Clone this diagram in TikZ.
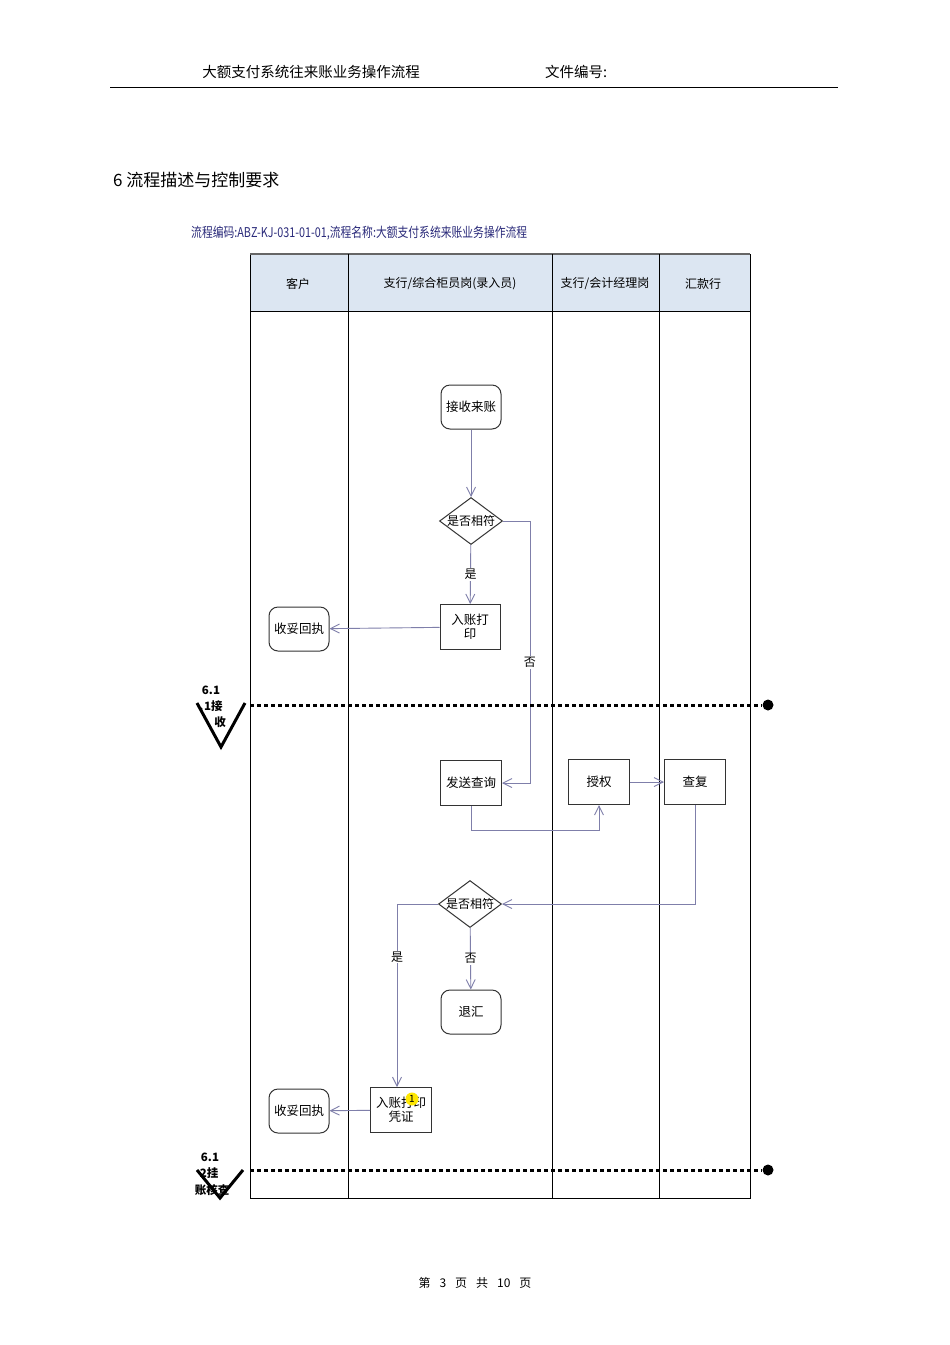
\documentclass[tikz,border=0pt]{standalone}
\usepackage{fontspec}
\usepackage{graphicx}
\setmainfont{Noto Sans CJK SC}
\usetikzlibrary{shapes.geometric,arrows.meta}
\definecolor{conncol}{HTML}{7F7FAA}
\definecolor{hdrfill}{HTML}{DCE6F2}
\definecolor{ttlcol}{HTML}{2A2A7A}
\begin{document}
\begin{tikzpicture}[x=1pt,y=-1pt,
  every node/.style={inner sep=0pt},
  txt/.style={font=\fontsize{12}{14}\selectfont},
  proc/.style={draw=black!80,line width=1pt,minimum width=61pt,minimum height=45pt,align=center,font=\fontsize{12.5}{14}\selectfont},
  term/.style={proc,rounded corners=9pt,minimum width=60pt,minimum height=44pt},
  dec/.style={draw=black!80,line width=1pt,diamond,aspect=1.35,minimum width=62pt,minimum height=47pt,font=\fontsize{12}{14}\selectfont},
  conn/.style={draw=conncol,line width=0.9pt,-{Straight Barb[length=9pt,width=9pt]}},
  lane/.style={draw=black,line width=0.9pt},
  stage/.style={line width=3pt,dash pattern=on 4pt off 3pt},
  vmark/.style={draw=black,line width=3pt},
  mk/.style={font=\fontsize{11.5}{12}\selectfont\bfseries}
]
\useasboundingbox[fill=white] (0,0) rectangle (950,1345);

% page header
\node[font=\fontsize{14.5}{16}\selectfont] (htitle) at (311,72) {大额支付系统往来账业务操作流程};
\node[font=\fontsize{14.5}{16}\selectfont,anchor=west] (hno) at (545,72) {文件编号:};
\draw[line width=1pt] (110,87) -- (838,87);

% section heading
\node[font=\fontsize{17}{19}\selectfont,anchor=west] (sec) at (113,180) {6 流程描述与控制要求};

% flow title
\node[anchor=west,text=ttlcol,font=\fontsize{13.5}{15}\selectfont] (ftitle) at (191,233) {\scalebox{0.8}[1]{流程编码:ABZ-KJ-031-01-01,流程名称:大额支付系统来账业务操作流程}};

% table
\fill[hdrfill] (250,254) rectangle (750,311);
\draw[lane] (250,254) rectangle (750,1198);
\draw[draw=black!60,line width=2pt] (250,254) -- (750,254);
\draw[lane] (250,311) -- (750,311);
\draw[lane] (348,254) -- (348,1198);
\draw[lane] (552,254) -- (552,1198);
\draw[lane] (659,254) -- (659,1198);
\node[txt] (h1) at (298,284) {客户};
\node[txt] (h2) at (450,284) {支行/综合柜员岗(录入员)};
\node[txt] (h3) at (605,284) {支行/会计经理岗};
\node[txt] (h4) at (703,284) {汇款行};

% nodes
\node[term] (recv) at (471,407) {接收来账};
\node[dec] (d1) at (471,521) {是否相符};
\node[proc,minimum width=60pt] (rzdy) at (470,627) {入账打\\印};
\node[term] (hz1) at (299,629) {收妥回执};
\node[proc] (fscx) at (471,783) {发送查询};
\node[proc] (sq) at (599,782) {授权};
\node[proc] (cf) at (695,782) {查复};
\node[dec] (d2) at (470,904) {是否相符};
\node[term] (th) at (471,1012) {退汇};
\node[proc,minimum width=61pt,minimum height=45pt] (rzpz) at (401,1110) {入账打印\\凭证};
\node[circle,fill=yellow!90!orange,minimum size=13pt,font=\fontsize{10}{10}\selectfont] (note) at (412,1099) {1};
\node[term] (hz2) at (299,1111) {收妥回执};

% connectors
\draw[conn] (recv) -- (d1);
\draw[conn] (d1) -- node[fill=white,txt,inner sep=1pt] (ys1) {是} (rzdy);
\draw[conn] (rzdy) -- (hz1);
\draw[conn] (d1.east) -- ++(27,0) coordinate (c1) |- node[pos=0.27,fill=white,txt,inner sep=1pt] (no1) {否} (fscx.east);
\draw[conn] (fscx.south) -- ++(0,24) -| (sq.south);
\draw[conn] (sq) -- (cf);
\draw[conn] (cf.south) |- (d2.east);
\draw[conn] (d2.west) -| node[pos=0.645,fill=white,txt,inner sep=1pt] (ys2) {是} ([xshift=-4pt]rzpz.north);
\draw[conn] (d2) -- node[fill=white,txt,inner sep=1pt] (no2) {否} (th);
\draw[conn] (rzpz) -- (hz2);

% stage markers
\node[circle,fill=black,minimum width=8pt,minimum height=11pt] (dot1) at (768,705) {};
\coordinate (s1) at (250,705);
\draw[stage] (s1) -- (dot1.west);
\draw[vmark] (197,703) -- (221,747) -- (245,703);
\node[mk] (m1a) at (211,690) {6.1};
\node[mk] (m1b) at (211,706) {.\kern0.5pt1接};
\node[mk] (m1c) at (220,722) {收};

\node[circle,fill=black,minimum width=8pt,minimum height=11pt] (dot2) at (768,1170) {};
\coordinate (s2) at (250,1170);
\draw[stage] (s2) -- (dot2.west);
\draw[vmark] (197,1170) -- (220,1198) -- (243,1170);
\node[mk] (m2a) at (210,1157) {6.1};
\node[mk] (m2b) at (209,1173) {2挂};
\node[mk] (m2c) at (212,1190) {账核查};

% footer
\node[font=\fontsize{12}{13}\selectfont] (foot) at (475,1283) {第\hspace{9pt}3\hspace{9pt}页\hspace{9pt}共\hspace{9pt}10\hspace{9pt}页};
\end{tikzpicture}
\end{document}
